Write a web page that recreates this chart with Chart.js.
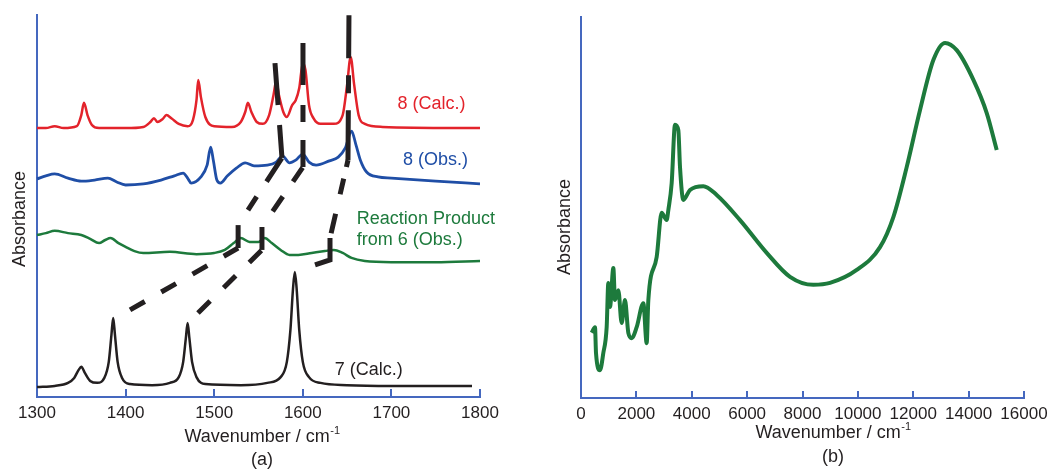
<!DOCTYPE html>
<html><head><meta charset="utf-8">
<script src="https://cdn.jsdelivr.net/npm/chart.js@4.4.1/dist/chart.umd.min.js"></script>
<style>
html,body{margin:0;padding:0;background:#fff;width:1056px;height:469px;overflow:hidden}
#ca{position:absolute;left:0;top:0}
#cb{position:absolute;left:540px;top:0}
</style></head><body>
<canvas id="ca" width="520" height="469"></canvas>
<canvas id="cb" width="516" height="469"></canvas>
<script>
// ---------- Panel (a) data ----------
const ticksA = [1300, 1400, 1500, 1600, 1700, 1800];
const calc8Wn = [1300,1310,1320,1330,1345,1350,1353,1357,1362,1370,1400,1420,1428,1432,1436,1442,1446,1452,1460,1470,1476,1480,1482,1485,1490,1500,1520,1530,1535,1538,1542,1548,1555,1562,1567,1570,1573,1578,1582,1588,1592,1596,1600,1603,1607,1612,1620,1635,1645,1650,1654,1658,1663,1670,1690,1800];
const calc8Abs = [70.4,70.4,70.9,70.4,70.9,73.8,77.0,73.8,71.2,70.4,70.4,70.7,72.0,73.0,72.0,72.8,73.8,72.9,71.5,70.9,72.5,77.7,83.0,78.5,73.3,70.9,70.7,72.0,74.6,77.0,74.6,72.0,71.5,73.8,79.1,82.7,79.1,74.6,73.3,76.4,77.7,80.9,87.4,85.6,76.4,73.0,71.5,71.5,73.8,81.7,89.0,81.7,73.8,71.5,70.7,70.4];
const obs8Wn = [1300,1310,1320,1335,1350,1365,1380,1390,1400,1420,1440,1455,1465,1470,1474,1485,1492,1496,1499,1503,1507,1515,1525,1535,1545,1560,1570,1577,1585,1592,1600,1607,1615,1630,1640,1648,1655,1660,1665,1672,1685,1700,1750,1800];
const obs8Abs = [57.1,57.9,58.4,57.3,56.5,56.8,57.3,56.3,55.5,55.8,56.8,57.9,58.6,57.3,56.0,57.6,60.7,65.4,62.0,56.8,56.0,57.9,59.9,61.3,60.5,60.7,61.5,63.1,61.3,62.0,63.6,61.5,60.7,61.8,62.8,65.2,69.6,66.0,62.0,58.9,57.6,57.3,56.5,55.8];
const prod6Wn = [1300,1310,1320,1335,1350,1360,1370,1377,1383,1392,1400,1410,1420,1450,1480,1500,1512,1522,1530,1540,1550,1557,1565,1575,1585,1595,1610,1625,1635,1645,1655,1670,1700,1750,1800];
const prod6Abs = [42.4,42.9,43.5,42.9,42.4,41.4,40.3,41.1,41.6,40.3,39.3,38.2,37.7,38.0,37.4,37.7,38.5,40.3,41.6,40.6,40.6,41.6,40.3,38.5,37.2,37.2,37.7,38.2,38.5,37.7,36.4,35.6,35.3,35.3,35.6];
const calc7Wn = [1300,1320,1335,1342,1347,1350,1354,1360,1368,1376,1381,1384,1386,1388,1391,1396,1405,1430,1450,1460,1465,1468,1470,1472,1475,1480,1490,1530,1560,1575,1582,1586,1589,1591,1593,1596,1600,1607,1620,1650,1700,1791];
const calc7Abs = [2.6,2.9,3.7,5.0,7.1,7.9,6.3,4.2,3.7,5.0,9.2,16.2,20.7,16.2,9.2,5.0,3.4,3.1,3.7,5.2,9.2,15.4,19.4,15.4,9.2,5.2,3.4,3.1,3.7,5.2,9.2,17.5,28.5,32.7,28.5,17.5,9.2,5.2,3.7,3.1,2.9,2.9];
// peak-correlation dashed guides (vertices)
const linkAWn = [1405,1527,1527,1576.5,1568.6];
const linkAAbs = [22.8,39.0,45.0,62.6,87.4];
const linkBWn = [1481.7,1553.9,1553.9,1600.2,1600.2];
const linkBAbs = [22.0,38.5,44.5,60.2,92.7];
const linkCWn = [1613.8,1630.7,1630.7,1651.0,1652.1];
const linkCAbs = [34.6,35.9,41.6,62.0,100];

// ---------- Panel (b) data ----------
const ticksB = [0,2000,4000,6000,8000,10000,12000,14000,16000];
const nirWn = [386,506,542,686,806,927,987,1047,1168,1228,1348,1468,1589,1709,1830,2011,2251,2372,2432,2733,2913,3094,3154,3275,3395,3515,3576,3696,3937,4418,4901,5743,6707,7549,8391,8993,9958,10800,11281,11763,12245,12726,13148,13570,14172,14654,15015];
const nirAbs = [17.1,18.6,11.8,7.3,11.8,18.6,30.2,23.9,34.1,25.7,28.3,19.7,25.7,17.1,15.7,18.6,24.9,14.4,25.7,37.0,48.6,46.7,49.3,56.4,71.7,70.3,60.6,52.0,54.6,55.6,53.3,46.7,38.1,31.8,29.7,30.2,33.6,39.6,47.5,60.6,75.6,88.7,93.2,91.3,83.5,74.8,65.1];

const pts = (xs, ys) => xs.map((x, i) => ({x, y: ys[i]}));

const AXIS = '#4568bf';
const TXT = '#231f20';
const FONT = "'Liberation Sans', Arial, Helvetica, sans-serif";
Chart.defaults.font.family = FONT;

function makeTexts(items) {
  return {
    id: 'texts',
    afterDraw(chart) {
      const ctx = chart.ctx;
      items.forEach(it => {
        ctx.save();
        ctx.font = it.font || ('18px ' + FONT);
        ctx.fillStyle = it.color || TXT;
        ctx.textBaseline = 'middle';
        let px = it.px, py = it.py;
        if (it.at) { px = chart.scales.x.getPixelForValue(it.at[0]); py = chart.scales.y.getPixelForValue(it.at[1]); }
        ctx.translate(px, py);
        if (it.rot) ctx.rotate(it.rot);
        if (it.sup) {
          const mw = ctx.measureText(it.text).width;
          const supFont = '11px ' + FONT;
          ctx.save(); ctx.font = supFont; const sw = ctx.measureText(it.sup).width; ctx.restore();
          const start = -(mw + sw) / 2;
          ctx.textAlign = 'left';
          ctx.fillText(it.text, start, 0);
          ctx.font = supFont;
          ctx.fillText(it.sup, start + mw + 0.5, -6);
        } else {
          ctx.textAlign = it.align || 'center';
          ctx.fillText(it.text, 0, 0);
        }
        ctx.restore();
      });
    }
  };
}

function makeInnerTicks(values, len) {
  return {
    id: 'innerTicks',
    afterDraw(chart) {
      const ctx = chart.ctx, xs = chart.scales.x, b = chart.chartArea.bottom;
      ctx.save();
      ctx.strokeStyle = AXIS; ctx.lineWidth = 2;
      values.forEach(v => {
        const p = Math.round(xs.getPixelForValue(v));
        ctx.beginPath(); ctx.moveTo(p, b); ctx.lineTo(p, b - len); ctx.stroke();
      });
      ctx.restore();
    }
  };
}

function spectrum(data, color, width) {
  return {data, borderColor: color, borderWidth: width, pointRadius: 0, fill: false,
          cubicInterpolationMode: 'monotone', order: 1, clip: false};
}
// per-segment dash patterns imitate the hand-drawn guide lines
function guide(data, dashes, offsets) {
  return {data, borderColor: TXT, borderWidth: 5, pointRadius: 0,
          fill: false, tension: 0, order: 0, clip: false, borderCapStyle: 'butt', borderJoinStyle: 'miter',
          segment: {
            borderDash: c => dashes[c.p0DataIndex],
            borderDashOffset: c => offsets[c.p0DataIndex]
          }};
}

function baseOptions(xmin, xmax, ticks, yWidth, xHeight, padRight, padTop) {
  return {
    responsive: false, animation: false, devicePixelRatio: 1,
    layout: {padding: {left: 0, right: padRight, top: padTop, bottom: 0}},
    plugins: {legend: {display: false}, tooltip: {enabled: false}},
    scales: {
      x: {type: 'linear', min: xmin, max: xmax,
          afterBuildTicks: s => { s.ticks = ticks.map(v => ({value: v})); },
          afterFit: s => { s.height = xHeight; },
          grid: {display: false, drawTicks: false},
          border: {display: true, color: AXIS, width: 2},
          ticks: {color: TXT, font: {size: 17}, padding: 6, maxRotation: 0, autoSkip: false,
                  callback: v => String(v)}},
      y: {type: 'linear', min: 0, max: 100,
          afterFit: s => { s.width = yWidth; },
          grid: {display: false, drawTicks: false},
          border: {display: true, color: AXIS, width: 2},
          ticks: {display: false}}
    }
  };
}

// ---------- Chart (a) ----------
const labelFont = '18px ' + FONT;
new Chart(document.getElementById('ca'), {
  type: 'line',
  data: {datasets: [
    guide(pts(linkAWn, linkAAbs), [[17,19], [], [16,18,28,18], [33,20,42,10]], [0, 0, 62, 0]),
    guide(pts(linkBWn, linkBAbs), [[17,19], [], [18,18,17,19], [27,18,17,20,42,10]], [0, 0, 53, 0]),
    guide(pts(linkCWn, linkCAbs), [[], [], [20,20,16,12,7,5], [50,17,18,17,43,10]], [0, 0, 75, 0]),
    spectrum(pts(calc8Wn, calc8Abs), '#e3232b', 2.5),
    spectrum(pts(obs8Wn, obs8Abs), '#1f4ea6', 2.8),
    spectrum(pts(prod6Wn, prod6Abs), '#1d7a3c', 2.5),
    spectrum(pts(calc7Wn, calc7Abs), TXT, 2.5)
  ]},
  options: baseOptions(1300, 1800, ticksA, 37, 72, 40, 15),
  plugins: [makeInnerTicks(ticksA.slice(1), 8), makeTexts([
    {text: 'Absorbance', px: 20, py: 219, rot: -Math.PI / 2},
    {text: 'Wavenumber / cm', sup: '-1', px: 262, py: 437},
    {text: '(a)', px: 262, py: 460},
    {text: '8 (Calc.)', at: [1707, 76.7], align: 'left', color: '#e3232b', font: labelFont},
    {text: '8 (Obs.)', at: [1713, 62.0], align: 'left', color: '#1f4ea6', font: labelFont},
    {text: 'Reaction Product', at: [1661, 46.6], align: 'left', color: '#1d7a3c', font: labelFont},
    {text: 'from 6 (Obs.)', at: [1661, 41.1], align: 'left', color: '#1d7a3c', font: labelFont},
    {text: '7 (Calc.)', at: [1636, 7.1], align: 'left', color: TXT, font: labelFont}
  ])]
});

// ---------- Chart (b) ----------
new Chart(document.getElementById('cb'), {
  type: 'line',
  data: {datasets: [spectrum(pts(nirWn, nirAbs), '#1d7a3c', 4)]},
  options: baseOptions(0, 16000, ticksB, 41, 71, 32, 17),
  plugins: [makeInnerTicks(ticksB.slice(1), 7), makeTexts([
    {text: 'Absorbance', px: 25, py: 227, rot: -Math.PI / 2},
    {text: 'Wavenumber / cm', sup: '-1', px: 293, py: 433},
    {text: '(b)', px: 293, py: 457}
  ])]
});
</script>
</body></html>
